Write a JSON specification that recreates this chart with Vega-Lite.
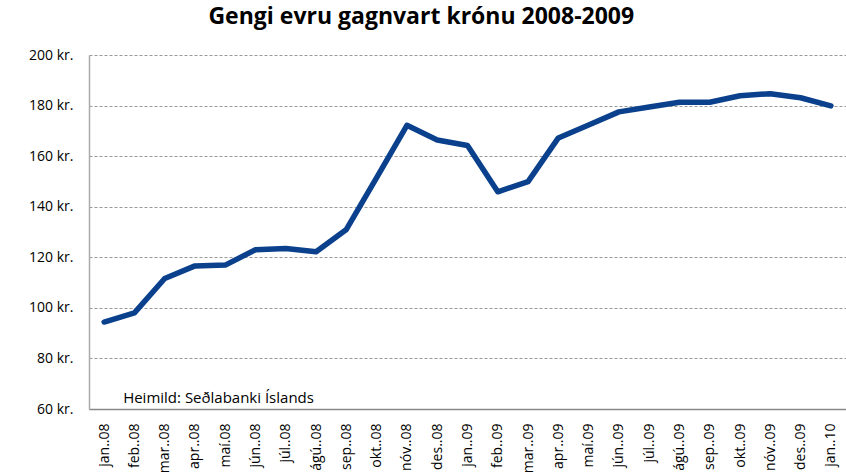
{
  "$schema": "https://vega.github.io/schema/vega-lite/v6.json",
  "width": 846,
  "height": 473,
  "autosize": {"type": "fit", "contains": "padding"},
  "padding": {"left": 28, "right": 0, "top": 6, "bottom": 0},
  "background": "white",
  "title": {
    "text": "Gengi evru gagnvart krónu 2008-2009",
    "font": "Open Sans",
    "fontSize": 23,
    "fontWeight": "bold",
    "color": "#000000",
    "anchor": "middle",
    "frame": "bounds",
    "dx": -16,
    "offset": 19
  },
  "config": {
    "view": {"stroke": null},
    "font": "Open Sans"
  },
  "data": {
    "values": [
      {"m": "jan..08", "v": 94.4},
      {"m": "feb..08", "v": 98.0},
      {"m": "mar..08", "v": 111.6},
      {"m": "apr..08", "v": 116.6},
      {"m": "maí.08", "v": 116.9},
      {"m": "jún..08", "v": 123.0},
      {"m": "júl..08", "v": 123.5},
      {"m": "ágú..08", "v": 122.2},
      {"m": "sep..08", "v": 131.0},
      {"m": "okt..08", "v": 151.5},
      {"m": "nóv..08", "v": 172.2},
      {"m": "des..08", "v": 166.4},
      {"m": "jan..09", "v": 164.2},
      {"m": "feb..09", "v": 145.9},
      {"m": "mar..09", "v": 149.9},
      {"m": "apr..09", "v": 167.2},
      {"m": "maí.09", "v": 172.3},
      {"m": "jún..09", "v": 177.5},
      {"m": "júl..09", "v": 179.4},
      {"m": "ágú..09", "v": 181.3},
      {"m": "sep..09", "v": 181.3},
      {"m": "okt..09", "v": 183.9},
      {"m": "nóv..09", "v": 184.7},
      {"m": "des..09", "v": 183.1},
      {"m": "jan..10", "v": 179.9}
    ]
  },
  "layer": [
    {
      "mark": {"type": "line", "color": "#0a408c", "strokeWidth": 5.5, "strokeJoin": "round", "strokeCap": "round"},
      "encoding": {
        "x": {
          "field": "m",
          "type": "nominal",
          "sort": null,
          "scale": {"type": "point", "padding": 0.5},
          "axis": {
            "title": null,
            "labelAngle": -90,
            "labelFont": "Open Sans",
            "labelFontSize": 14,
            "labelColor": "#000000",
            "labelPadding": 14,
            "ticks": false,
            "grid": false,
            "domainColor": "#888888",
            "domainWidth": 1.5
          }
        },
        "y": {
          "field": "v",
          "type": "quantitative",
          "scale": {"domain": [60, 200], "nice": false, "zero": false},
          "axis": {
            "title": null,
            "values": [60, 80, 100, 120, 140, 160, 180, 200],
            "labelExpr": "datum.value + ' kr.'",
            "labelFont": "Open Sans",
            "labelFontSize": 14,
            "labelColor": "#000000",
            "labelPadding": 16,
            "ticks": false,
            "domainColor": "#aaaaaa",
            "domainWidth": 1.5,
            "gridColor": "#999999",
            "gridDash": [3, 2],
            "gridWidth": 1
          }
        }
      }
    },
    {
      "data": {"values": [{"t": "Heimild: Seðlabanki Íslands"}]},
      "mark": {"type": "text", "align": "left", "baseline": "alphabetic", "dx": 19, "font": "Open Sans", "fontSize": 15, "color": "#000000"},
      "encoding": {
        "x": {"datum": "jan..08"},
        "y": {"datum": 62.5},
        "text": {"field": "t"}
      }
    }
  ]
}
